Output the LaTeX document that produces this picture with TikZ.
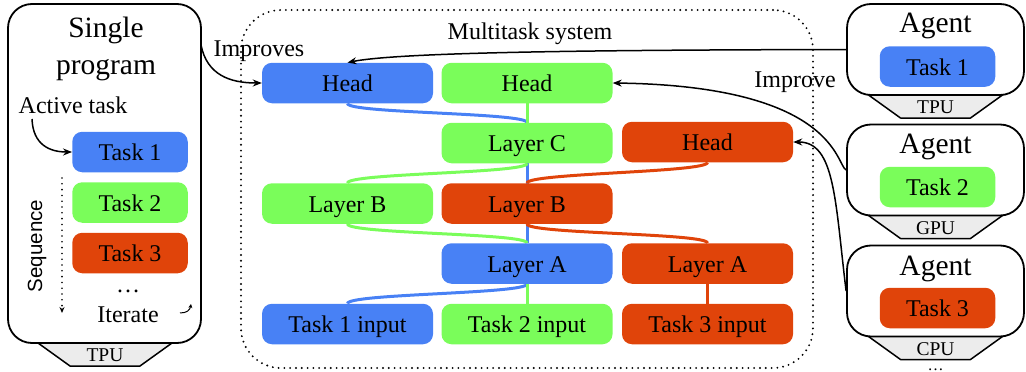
\documentclass[tikz,border=0pt]{standalone}
\usepackage{fontspec}
\setmainfont{Liberation Serif}
\setsansfont{Liberation Sans}
\usetikzlibrary{arrows.meta,backgrounds}
\definecolor{tblue}{RGB}{72,129,245}
\definecolor{tgreen}{RGB}{122,253,90}
\definecolor{tred}{RGB}{224,68,10}
\definecolor{tgray}{RGB}{236,236,236}
\newcommand\hwbase[4]{%
  \draw[hw] ({#2-67},#3) -- ({#2-35},{#3+23}) -- ({#2+35},{#3+23}) -- ({#2+67},#3);
  \node[smalltxt, anchor=base] (#1) at (#2,{#3+18.5}) {#4};}
\begin{document}
\begin{tikzpicture}[x=1pt,y=-1pt,
  txt/.style={font=\rmfamily\fontsize{24}{28}\selectfont, inner sep=0pt},
  bigtxt/.style={font=\rmfamily\fontsize{29.5}{34}\selectfont, inner sep=0pt},
  smalltxt/.style={font=\rmfamily\fontsize{19.5}{22}\selectfont, inner sep=0pt},
  blk/.style={txt, rounded corners=10pt, minimum height=40.5pt, text height=17pt, text depth=0pt},
  mod/.style={blk, minimum width=171pt},
  tsk/.style={blk, minimum width=115.5pt},
  frame/.style={draw, line width=1.8pt, rounded corners=24pt},
  hw/.style={draw, line width=1.5pt, fill=tgray, line join=round},
  arr/.style={draw, line width=1.5pt, -{Stealth[length=9pt,width=7pt]}},
  lnk/.style={line width=3pt},
  dots/.style={line width=2.1pt, dash pattern=on 0pt off 5.8pt, line cap=round},
]
\useasboundingbox (0,0) rectangle (1026,372);

% hardware bases
\hwbase{hwL}{105}{343}{TPU}
\hwbase{hw1}{935.5}{95}{TPU}
\hwbase{hw2}{935.5}{215.5}{GPU}
\hwbase{hw3}{935.5}{336.5}{CPU}

% frames
\node[frame, minimum width=193pt, minimum height=339pt] (sp) at (104.5,173.5) {};
\node[frame, minimum width=177pt, minimum height=91pt] (ag1) at (935.5,49.5) {};
\node[frame, minimum width=177pt, minimum height=91pt] (ag2) at (935.5,170) {};
\node[frame, minimum width=177pt, minimum height=91pt] (ag3) at (935.5,291) {};
\node[draw, dots, rounded corners=40pt, minimum width=572pt, minimum height=358pt] (mt) at (527,189) {};

% single program
\node[bigtxt, anchor=base] (sp1) at (106,37) {Single};
\node[bigtxt, anchor=base] (sp2) at (106,74) {program};
\node[txt, anchor=base] (act) at (73,113) {Active task};
\node[tsk, fill=tblue] (lt1) at (130,152) {Task 1};
\node[tsk, fill=tgreen] (lt2) at (130,202.5) {Task 2};
\node[tsk, fill=tred] (lt3) at (130,253) {Task 3};
\node[txt, anchor=base] (ldots) at (128,292) {\ldots};
\node[txt, anchor=base] (iter) at (128,322) {Iterate};
\node[font=\sffamily\fontsize{20.5}{24}\selectfont, rotate=90, inner sep=0pt] (seq) at (37,246) {Sequence};
\coordinate (seqS) at (62,178);
\coordinate (seqE) at (62,313);
\draw[dots, line width=1.8pt, -{Stealth[length=6pt,width=5pt]}] (seqS) -- (seqE);
\coordinate (itA) at (180,313);
\coordinate (itB) at (191,304);
\draw[line width=1pt, -{Stealth[length=4pt,width=4pt]}] (itA) .. controls (187,313) and (190,310) .. (itB);
\coordinate (actS) at (32,119);
\draw[arr] (actS) .. controls (33,145) and (50,152) .. (lt1.west);

% multitask system
\node[txt, anchor=base] (mtl) at (530,39) {Multitask system};
\node[mod, fill=tblue] (h1) at (347.5,83) {Head};
\node[mod, fill=tgreen] (h2) at (527,83) {Head};
\node[mod, fill=tgreen] (lc) at (527,143) {Layer C};
\node[mod, fill=tred] (h3) at (707.5,142) {Head};
\node[mod, fill=tgreen] (lb2) at (347.5,203.5) {Layer B};
\node[mod, fill=tred] (lb3) at (527,203.5) {Layer B};
\node[mod, fill=tblue] (la1) at (527,263.5) {Layer A};
\node[mod, fill=tred] (la3) at (707.5,263.5) {Layer A};
\node[mod, fill=tblue] (in1) at (347.5,324) {Task 1 input};
\node[mod, fill=tgreen] (in2) at (527,324) {Task 2 input};
\node[mod, fill=tred] (in3) at (707.5,324) {Task 3 input};

\begin{scope}[on background layer]
\draw[lnk, tblue] (h1.south) .. controls +(0,10) and +(0,-10) .. (lc.north);
\draw[lnk, tblue] (lc.south) -- (la1.north);
\draw[lnk, tblue] (la1.south) .. controls +(0,10) and +(0,-10) .. (in1.north);
\draw[lnk, tgreen] (h2.south) -- (lc.north);
\draw[lnk, tgreen] (lc.south) .. controls +(0,10) and +(0,-10) .. (lb2.north);
\draw[lnk, tgreen] (lb2.south) .. controls +(0,10) and +(0,-10) .. (la1.north);
\draw[lnk, tgreen] (la1.south) -- (in2.north);
\draw[lnk, tred] (h3.south) .. controls +(0,10) and +(0,-10) .. (lb3.north);
\draw[lnk, tred] (lb3.south) .. controls +(0,10) and +(0,-10) .. (la3.north);
\draw[lnk, tred] (la3.south) -- (in3.north);
\end{scope}

% improves arrow from single program
\coordinate (impS) at (201,45);
\node[txt, anchor=base] (impL) at (259,56) {Improves};
\draw[arr] (impS) .. controls (207,75) and (230,83) .. (h1.west);

% agents
\node[bigtxt, anchor=base] (ag1t) at (935.5,32) {Agent};
\node[tsk, fill=tblue] (at1) at (937.5,66.5) {Task 1};
\node[bigtxt, anchor=base] (ag2t) at (935.5,153) {Agent};
\node[tsk, fill=tgreen] (at2) at (937.5,187) {Task 2};
\node[bigtxt, anchor=base] (ag3t) at (935.5,275) {Agent};
\node[tsk, fill=tred] (at3) at (937.5,308) {Task 3};
\node[font=\rmfamily\fontsize{16}{18}\selectfont, inner sep=0pt, anchor=base] (agdots) at (935.5,370) {\ldots};

\node[txt, anchor=base] (impL2) at (795,87) {Improve};
\draw[arr] (ag1.west) .. controls (600,50) and (400,52) .. (h1.north);
\draw[arr] (ag2.west) .. controls (836,165) and (836,86) .. (h2.east);
\draw[arr] (ag3.west) .. controls (835,200) and (835,142) .. (h3.east);
\end{tikzpicture}
\end{document}
